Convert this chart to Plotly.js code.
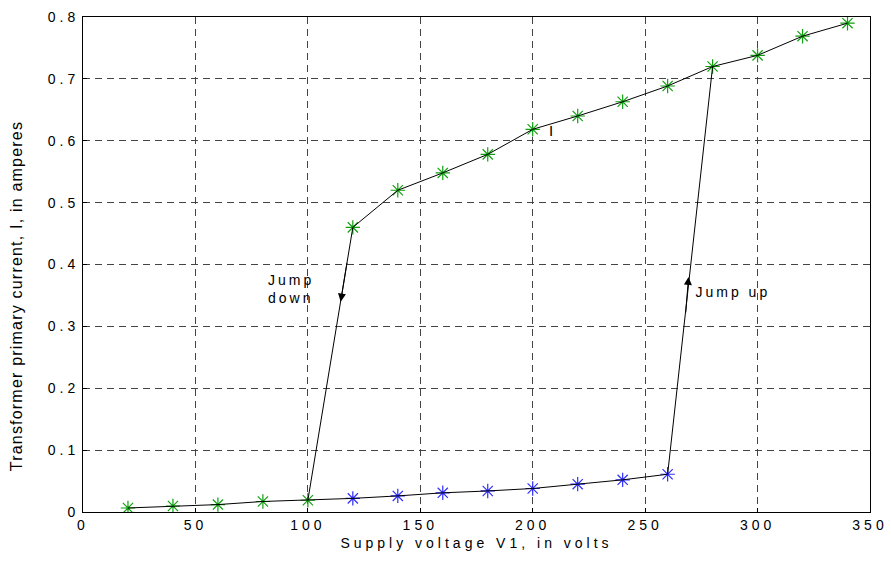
<!DOCTYPE html>
<html>
<head>
<meta charset="utf-8">
<script src="https://cdn.plot.ly/plotly-3.0.1.min.js"></script>
<style>
  html, body { margin: 0; padding: 0; background: #fff; }
  #chart { width: 891px; height: 569px; }
  .xtick text, .ytick text { letter-spacing: 4px; }
  .g-xtitle text { letter-spacing: 4px; }
  g.annotation[data-index="2"] text, g.annotation[data-index="3"] text { letter-spacing: 3px; }
  g.annotation[data-index="5"] text { letter-spacing: 1.2px; }
</style>
</head>
<body>
<div id="chart"></div>
<script>
// Lower branch (increasing voltage, before jump up)
const voltsLow = [20, 40, 60, 80, 100, 120, 140, 160, 180, 200, 220, 240, 260];
const currentLow = [0.0065, 0.0097, 0.012, 0.017, 0.019, 0.022, 0.026, 0.031, 0.034, 0.038, 0.045, 0.052, 0.061];
// Upper branch (after jump up / before jump down)
const voltsUp = [120, 140, 160, 180, 200, 220, 240, 260, 280, 300, 320, 340];
const currentUp = [0.46, 0.52, 0.548, 0.578, 0.6185, 0.64, 0.663, 0.6885, 0.72, 0.738, 0.769, 0.79];
// Marker split: green on lower branch up to 100 V, blue beyond
const greenLowMax = 100;
const xTicks = [0, 50, 100, 150, 200, 250, 300, 350];
const yTicks = [0, 0.1, 0.2, 0.3, 0.4, 0.5, 0.6, 0.7, 0.8];

const green = '#10a010';
const blue = '#2e2eff';

// path A: lower branch then jump up and rest of upper branch
const upperAfterJump = voltsUp.map((v, i) => [v, currentUp[i]]).filter(p => p[0] >= 280);
const pathAx = voltsLow.concat(upperAfterJump.map(p => p[0]));
const pathAy = currentLow.concat(upperAfterJump.map(p => p[1]));
// path B: jump down (from 100 V lower point) and upper branch up to 280 V
const idx100 = voltsLow.indexOf(100);
const upperBefore = voltsUp.map((v, i) => [v, currentUp[i]]).filter(p => p[0] <= 280);
const pathBx = [voltsLow[idx100]].concat(upperBefore.map(p => p[0]));
const pathBy = [currentLow[idx100]].concat(upperBefore.map(p => p[1]));

const gl = voltsLow.map((v, i) => [v, currentLow[i]]).filter(p => p[0] <= greenLowMax);
const bl = voltsLow.map((v, i) => [v, currentLow[i]]).filter(p => p[0] > greenLowMax);

const markerStyle = (c) => ({ symbol: 'asterisk-open', size: 12, color: c, line: { color: c, width: 1.2 } });

const traces = [
  { x: gl.map(p => p[0]), y: gl.map(p => p[1]), mode: 'markers', marker: markerStyle(green), hoverinfo: 'skip' },
  { x: voltsUp, y: currentUp, mode: 'markers', marker: markerStyle(green), hoverinfo: 'skip' },
  { x: bl.map(p => p[0]), y: bl.map(p => p[1]), mode: 'markers', marker: markerStyle(blue), hoverinfo: 'skip' },
  { x: pathAx, y: pathAy, mode: 'lines', line: { color: '#000', width: 1 }, hoverinfo: 'skip' },
  { x: pathBx, y: pathBy, mode: 'lines', line: { color: '#000', width: 1 }, hoverinfo: 'skip' }
];

const F = (size) => ({ family: 'Liberation Sans, Arial, sans-serif', size: size, color: '#000' });

const layout = {
  width: 891, height: 569,
  margin: { l: 83, r: 21, t: 17, b: 57 },
  paper_bgcolor: '#fff', plot_bgcolor: '#fff',
  showlegend: false,
  font: F(14),
  xaxis: {
    range: [0, 350], tickvals: xTicks, ticktext: xTicks.map(String),
    showgrid: true, gridcolor: '#444', griddash: '7px,5px', gridwidth: 1,
    zeroline: false, showline: true, linecolor: '#000', linewidth: 1, mirror: true,
    ticks: 'inside', ticklen: 4, tickcolor: '#000',
    tickfont: F(14),
    title: { text: 'Supply voltage V1, in volts', font: F(14), standoff: 6 }
  },
  yaxis: {
    range: [0, 0.8], tickvals: yTicks, ticktext: yTicks.map(v => v === 0 ? '0' : v.toFixed(1)),
    showgrid: true, gridcolor: '#444', griddash: '7px,5px', gridwidth: 1,
    zeroline: false, showline: true, linecolor: '#000', linewidth: 1, mirror: true,
    ticks: 'inside', ticklen: 4, tickcolor: '#000',
    tickfont: F(14)
  },
  annotations: [
    { x: 114.6, y: 0.34, ax: 117.5, ay: 0.405, xref: 'x', yref: 'y', axref: 'x', ayref: 'y',
      showarrow: true, arrowhead: 2, arrowsize: 1.6, arrowwidth: 1, arrowcolor: '#000', text: '', standoff: 0 },
    { x: 269.3, y: 0.38, ax: 268.0, ay: 0.32, xref: 'x', yref: 'y', axref: 'x', ayref: 'y',
      showarrow: true, arrowhead: 2, arrowsize: 1.6, arrowwidth: 1, arrowcolor: '#000', text: '', standoff: 0 },
    { x: 90, y: 0.36, xref: 'x', yref: 'y', showarrow: false, text: 'Jump<br>down', font: F(14), align: 'left' },
    { x: 289, y: 0.356, xref: 'x', yref: 'y', showarrow: false, text: 'Jump up', font: F(14) },
    { x: 208, y: 0.617, xref: 'x', yref: 'y', showarrow: false, text: 'I', font: F(15) },
    { x: -67 / 787, y: (512 - 296) / 495, xref: 'paper', yref: 'paper', xanchor: 'center', yanchor: 'middle',
      textangle: -90, showarrow: false, text: 'Transformer primary current, I, in amperes', font: F(16) }
  ]
};

Plotly.newPlot('chart', traces, layout, { displayModeBar: false, staticPlot: true });
</script>
</body>
</html>
